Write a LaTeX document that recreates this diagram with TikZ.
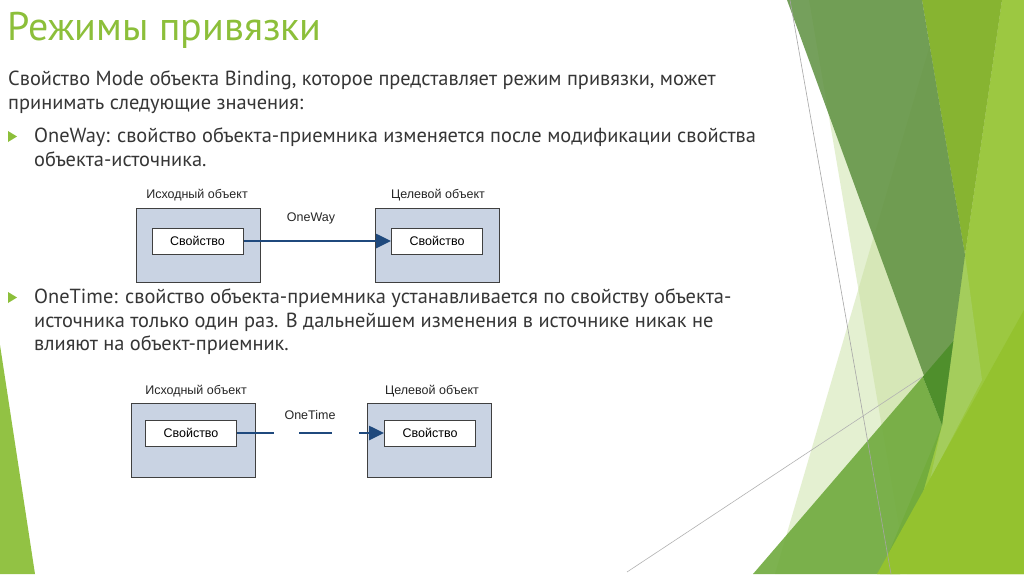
\documentclass[tikz,border=0pt]{standalone}
\usepackage{fontspec}
\setmainfont{PT Sans}
\newfontfamily\diafont{Liberation Sans}
\usetikzlibrary{arrows.meta,positioning}

\definecolor{facetgreen}{HTML}{8CBF3A}
\definecolor{bodytext}{HTML}{363636}
\definecolor{boxfill}{HTML}{C9D3E3}
\definecolor{linkblue}{HTML}{1F497D}
\definecolor{palegreen}{HTML}{C5DE99}
\definecolor{darkfacet}{HTML}{5E9040}
\definecolor{lightfacet}{HTML}{9CC841}
\definecolor{yellowfacet}{HTML}{87B431}
\definecolor{midfacet}{HTML}{6FAA3D}
\definecolor{limefacet}{HTML}{94C22F}
\definecolor{deepfacet}{HTML}{4F8F2C}
\definecolor{wedgefacet}{HTML}{A4CD5C}

\tikzset{
  line/.style={font=\fontsize{20.4}{24}\selectfont, text=bodytext, anchor=base west, inner sep=0pt},
  bullet/.style={fill=facetgreen},
  objbox/.style={draw=black!75, fill=boxfill, line width=1pt, minimum width=124pt, minimum height=74pt, inner sep=0pt},
  propbox/.style={draw=black!75, fill=white, line width=1pt, minimum width=91pt, minimum height=26pt, inner sep=0pt,
    font=\diafont\fontsize{12.5}{14}\selectfont},
  caption/.style={font=\diafont\fontsize{12.5}{14}\selectfont, text=black!85, inner sep=0pt},
  link/.style={draw=linkblue, line width=2.6pt, -{Triangle[length=15pt,width=14pt]}},
}

\begin{document}
\begin{tikzpicture}[x=1pt,y=-1pt]
    \useasboundingbox (0,0) rectangle (1024,574);
    \fill[white] (0,0) rectangle (1024,574);

    % facet decoration
    \fill[facetgreen!95!white] (0,345) -- (35,574) -- (0,574) -- cycle;
    \fill[palegreen, opacity=0.45] (809,0) -- (1024,0) -- (1024,574) -- (907,574) -- cycle;
    \fill[palegreen, opacity=0.45] (943,0) -- (1024,0) -- (1024,574) -- (775,574) -- cycle;
    \fill[lightfacet] (1002,0) -- (1024,0) -- (1024,574) -- (880,574) -- (942,425) -- (965,255) -- cycle;
    \fill[yellowfacet] (922,0) -- (1002,0) -- (965,255) -- cycle;
    \fill[wedgefacet] (965,255) -- (982,380) -- (930,480) -- (942,425) -- cycle;
    \fill[darkfacet, opacity=0.85] (787,0) -- (922,0) -- (965,255) -- (942,425) -- cycle;
    \fill[midfacet, opacity=0.9] (753,574) -- (922.8,376.7) -- (942,425) -- (900,574) -- cycle;
    \fill[deepfacet] (922.8,376.7) -- (953.3,341.2) -- (942,425) -- cycle;
    \fill[limefacet] (1024,310) -- (877,574) -- (1024,574) -- cycle;
    \draw[gray!70, line width=0.6pt] (790,0) -- (891,574);
    \draw[gray!60, line width=0.6pt] (627,572) -- (922,377);

    % text
    \node[anchor=base west, font=\fontsize{40}{44}\selectfont, text=facetgreen, inner sep=0pt] (title) at (7,40) {Режимы привязки};
    \node[line] (intro1) at (8,85) {Свойство Mode объекта Binding, которое представляет режим привязки, может};
    \node[line] (intro2) at (8,109) {принимать следующие значения:};
    \fill[bullet] (8,131) -- (17,136.5) -- (8,142) -- cycle;
    \node[line] (way1) at (34,142) {OneWay: свойство объекта-приемника изменяется после модификации свойства};
    \node[line] (way2) at (34,166) {объекта-источника.};
    \fill[bullet] (8,292) -- (17,297.5) -- (8,303) -- cycle;
    \node[line] (time1) at (34,303) {OneTime: свойство объекта-приемника устанавливается по свойству объекта-};
    \node[line] (time2) at (34,327) {источника только один раз. В дальнейшем изменения в источнике никак не};
    \node[line] (time3) at (34,350) {влияют на объект-приемник.};

    % OneWay diagram
    \node[objbox] (src1) at (198,245) {};
    \node[propbox] (prop1) at (197.5,241) {Свойство};
    \node[caption] (srccap1) at (197,195) {Исходный объект};
    \node[objbox] (dst1) at (437.5,245) {};
    \node[propbox] (prop2) at (437,241) {Свойство};
    \node[caption] (dstcap1) at (438,195) {Целевой объект};
    \node[caption] (waycap) at (311,218) {OneWay};
    \draw[link] (prop1) -- (prop2);

    % OneTime diagram
    \node[objbox] (src2) at (193,440.5) {};
    \node[propbox] (prop3) at (191,433) {Свойство};
    \node[caption] (srccap2) at (196,391) {Исходный объект};
    \node[objbox] (dst2) at (429,440.5) {};
    \node[propbox] (prop4) at (430,433) {Свойство};
    \node[caption] (dstcap2) at (432,391) {Целевой объект};
    \node[caption] (timecap) at (310,415) {OneTime};
    \draw[link, dash pattern=on 37pt off 25pt on 33pt off 27pt on 60pt] (prop3) -- (prop4);
\end{tikzpicture}
\end{document}
